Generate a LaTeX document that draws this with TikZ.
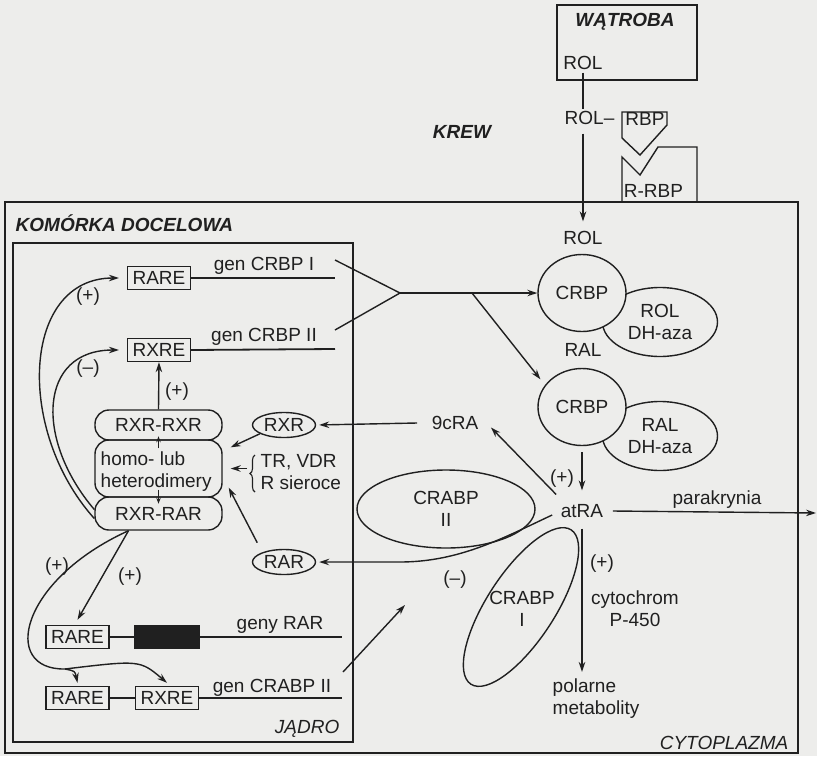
\documentclass[tikz,border=0pt]{standalone}
\usepackage{fontspec}
\setmainfont{Liberation Sans}
\usetikzlibrary{arrows.meta,shapes.geometric,decorations.pathreplacing}
\definecolor{paper}{RGB}{237,237,235}
\definecolor{ink}{RGB}{32,32,32}
\begin{document}
\begin{tikzpicture}[x=1pt,y=-1pt, font=\fontsize{19}{22}\selectfont, line width=1.4pt, color=ink,
  >={Stealth[length=10pt,width=6.5pt]},
  lbl/.style={inner sep=0pt, text height=13.6pt, text depth=0pt},
  ml/.style={inner sep=0pt, align=center},
  gbox/.style={draw, inner xsep=5pt, inner ysep=0pt, minimum height=23pt, text height=13.6pt, text depth=0pt},
  oval/.style={draw, ellipse, inner sep=0pt, text height=13.6pt, text depth=0pt},
  ovalml/.style={draw, ellipse, inner sep=0pt, align=center},
  dimer/.style={draw, rounded corners=14pt, minimum width=127pt, inner sep=0pt, text height=13.6pt, text depth=0pt},
  title/.style={lbl, font=\fontsize{19}{22}\selectfont\bfseries\itshape},
  itl/.style={lbl, font=\fontsize{19}{22}\selectfont\itshape},
  gene/.style={line width=1.8pt},
  small/.style={-{Stealth[length=6pt,width=4.5pt]}, line width=1.1pt}]
\fill[paper] (0,0) rectangle (817,756);
\useasboundingbox (0,0) rectangle (817,756);

% ---- liver and blood ----
\node[draw, minimum width=140pt, minimum height=75pt, inner sep=0pt] (liver) at (627,42.5) {};
\node[title] (watroba) at (625,20) {WĄTROBA};
\node[lbl] (rol1) at (583,63) {ROL};
\node[lbl, anchor=west] (rolrbp) at (564,118) {ROL–};
\node[title] (krew) at (462,132) {KREW};
\draw (622,112) -- (667,112) -- (667,125) -- (640,155) -- (622,138) -- cycle;
\node[lbl] (rbp) at (645,119) {RBP};
\draw (622,202) -- (622,157) -- (640,175) -- (658,147) -- (697,147) -- (697,202);
\node[lbl] (rrbp) at (653.5,191) {R-RBP};

% ---- cell and nucleus ----
\draw (5,202) rectangle (798,753);
\node[title, anchor=west] (komorka) at (15,225) {KOMÓRKA DOCELOWA};
\draw (13,243) rectangle (353,742);
\node[itl, anchor=east] (jadro) at (340,727) {JĄDRO};
\node[itl, anchor=east] (cyto) at (789,743) {CYTOPLAZMA};

% ---- cytoplasm ----
\node[lbl] (rol2) at (583,238) {ROL};
\draw ([yshift=-2pt]rol1.south) -- ([yshift=2pt]rol1.south |- rolrbp.north);
\draw[->] ([yshift=-8pt]rol1.south |- rolrbp.south) -- ([yshift=9pt]rol2.north);

\node[ovalml, minimum width=115pt, minimum height=69pt] (roldh) at (660,322) {ROL\\DH-aza};
\node[oval, fill=paper, minimum width=88pt, minimum height=77pt] (crbp1) at (582,293) {CRBP};
\node[lbl] (ral) at (583,350) {RAL};
\node[ovalml, minimum width=115pt, minimum height=69pt] (raldh) at (660,436) {RAL\\DH-aza};
\node[oval, fill=paper, minimum width=88pt, minimum height=77pt] (crbp2) at (582,407) {CRBP};

\node[lbl, inner sep=4pt] (atra) at (582,511) {atRA};
\draw[->] ([yshift=-6pt]crbp2.south) -- ([yshift=9pt]atra.north);
\node[lbl] (p1) at (562,477) {(+)};

\node[lbl] (ninecra) at (455,423) {9cRA};
\draw[->] ([yshift=5pt]atra.north west) -- ([shift={(12pt,3pt)}]ninecra.south east);

\node[ovalml, minimum width=178pt, minimum height=78pt] (crabp2) at (446,509) {CRABP\\II};
\node[draw, ellipse, minimum width=184pt, minimum height=68pt, rotate=57] (crabp1) at (521,607) {};
\node[ml] (crabp1txt) at (522,609) {CRABP\\I};

\node[oval, minimum width=63pt, minimum height=25pt] (rxr) at (284,425) {RXR};
\node[oval, minimum width=63pt, minimum height=25pt] (rar) at (284,562) {RAR};
\draw[->, shorten >=3pt] ([xshift=-14pt]ninecra.west) -- (rxr.east);
\draw[->, shorten >=3pt] ([shift={(-4pt,-4pt)}]atra.west) .. controls (505,537) and (460,562) .. (400,562) -- (rar.east);
\node[lbl] (m1) at (455,578) {(–)};

\node[ml, align=left, anchor=north west] (metab) at (552,678) {polarne\\metabolity};
\draw[->] ([yshift=-6pt]atra.south) -- ([yshift=6pt]atra.south |- metab.north);
\node[lbl] (p2) at (602,562) {(+)};
\node[ml] (cyt) at (635,609) {cytochrom\\P-450};

\node[lbl] (parak) at (717,498) {parakrynia};
\coordinate (parend) at (816,513);
\draw[->] ([xshift=5pt]atra.east) -- (parend);

% ---- CRBP genes ----
\node[gbox] (rare1) at (159,278) {RARE};
\node[gbox] (rxre1) at (159,350) {RXRE};
\coordinate (e1) at (335,278);
\coordinate (e2) at (335,349);
\draw[gene] (rare1.east) -- (e1);
\draw[gene] (rxre1.east) -- (e2);
\node[lbl] (gen1) at (264,264) {gen CRBP I};
\node[lbl] (gen2) at (264,335) {gen CRBP II};
\coordinate (c1) at (335,260);
\coordinate (c2) at (335,330);
\coordinate (apex) at (400,293);
\coordinate (br) at (472,293);
\draw (c1) -- (apex) -- (c2);
\draw[->] (apex) -- (crbp1.west);
\draw[->] (br) -- ([xshift=-10pt]crbp2.north west);

% ---- dimers ----
\node[dimer, minimum height=57pt] (homo) at (158.5,468.5) {};
\node[dimer, minimum height=30pt] (rxrrxr) at (158.5,425) {RXR-RXR};
\node[dimer, minimum height=33pt] (rxrrar) at (158.5,513.5) {RXR-RAR};
\node[ml, align=left, anchor=west] (homotxt) at (100,472) {homo- lub\\heterodimery};
\draw[small] ([yshift=-9pt]homo.north) -- ([yshift=3pt]homo.north);
\draw[small] ([yshift=8pt]homo.south) -- ([yshift=-6pt]homo.south);

\draw[->] (rxrrxr.north) -- (rxre1.south);
\node[lbl] (p3) at (177,390) {(+)};

\draw[->] (rxr.200) -- ([shift={(8pt,-8pt)}]homo.north east);
\draw[decorate, decoration={brace, amplitude=5pt}, line width=1.1pt] (255,492) -- (255,455);
\node[ml, align=left, anchor=west] (trtxt) at (260,472) {TR, VDR\\R sieroce};
\coordinate (bt) at (247,468.5);
\draw[->] (bt) -- ([xshift=8pt]homo.east);
\draw[->] ([shift={(-4pt,10pt)}]rar.north west) -- ([shift={(6pt,10pt)}]homo.south east);

\draw[->, shorten >=8pt] ([yshift=-5pt]rxrrar.west) .. controls (15,430) and (22,278) .. (rare1.west);
\draw[->, shorten >=8pt] ([yshift=4pt]rxrrar.west) .. controls (35,440) and (38,350) .. (rxre1.west);
\node[lbl] (p4) at (88,295) {(+)};
\node[lbl] (m2) at (88,367) {(–)};

% ---- RAR / CRABP II genes ----
\node[gbox] (rare2) at (77.5,637) {RARE};
\node[draw, fill=ink, minimum width=64pt, minimum height=23pt, inner sep=0pt] (blk) at (167,637) {};
\coordinate (e3) at (342,637);
\draw[gene] (rare2.east) -- (blk.west);
\draw[gene] (blk.east) -- (e3);
\node[lbl] (genyrar) at (280,623) {geny RAR};

\node[gbox] (rare3) at (77.5,698) {RARE};
\node[gbox] (rxre3) at (167,698) {RXRE};
\coordinate (e4) at (342,698);
\draw[gene] (rare3.east) -- (rxre3.west);
\draw[gene] (rxre3.east) -- (e4);
\node[lbl] (gencrabp) at (272,686) {gen CRABP II};

\coordinate (c5) at (343,672);
\coordinate (c6) at (405,605);
\draw[->] (c5) -- (c6);

\coordinate (split) at (65,669);
\draw[->] ([xshift=-30pt]rxrrar.south) -- ([yshift=5pt]rare2.north);
\draw[->] ([xshift=-30pt]rxrrar.south) .. controls (20,580) and (0,670) .. (split) .. controls (75,671) .. ([yshift=3pt]rare3.north);
\draw[->] (split) .. controls (140,660) .. ([yshift=3pt]rxre3.north);
\node[lbl] (p5) at (57,565) {(+)};
\node[lbl] (p6) at (130,575) {(+)};
\end{tikzpicture}
\end{document}
